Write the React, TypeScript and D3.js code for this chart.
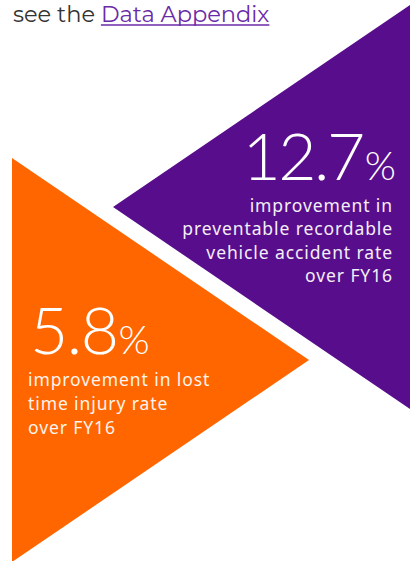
import React, { useEffect, useRef } from "react";
import * as d3 from "d3";

// stat values
const values = [12.7, 5.8];
const colors = ["#580e8c", "#ff6600"];
const captions = [
  ["improvement in", "preventable recordable", "vehicle accident rate", "over FY16"],
  ["improvement in lost", "time injury rate", "over FY16"],
];
const headerText = ["see the ", "Data Appendix"];

const W = 410;
const H = 561;

export default function App() {
  const ref = useRef<SVGSVGElement>(null);

  useEffect(() => {
    const svg = d3.select(ref.current);
    svg.selectAll("*").remove();

    // triangle geometry in page pixels
    const x = d3.scaleLinear().domain([0, 1]).range([0, 297]);
    const y = d3.scaleLinear().domain([-1, 1]).range([-202, 202]);

    const line = d3.line();

    // purple: points left, tip at (113, 207)
    const purple = svg.append("g").attr("transform", "translate(113,207)");
    purple
      .append("path")
      .attr("fill", colors[0])
      .attr("d", line([[x(0), y(0)], [x(1), y(-1)], [x(1), y(1)]]) + "Z");

    // orange: points right, base at x=12, centre y=360
    const orange = svg.append("g").attr("transform", "translate(12,360)");
    orange
      .append("path")
      .attr("fill", colors[1])
      .attr("d", line([[x(0), y(-1)], [x(1), y(0)], [x(0), y(1)]]) + "Z");

    const fmt = d3.format(".1f");

    // purple stat, right aligned
    const pt = svg
      .append("text")
      .attr("x", 396)
      .attr("y", 180)
      .attr("text-anchor", "end")
      .attr("fill", "#fff")
      .attr("font-family", "Lato, 'Open Sans', sans-serif")
      .attr("font-weight", 300);
    pt.append("tspan").attr("font-size", 66).attr("letter-spacing", -2.5).text(fmt(values[0]));
    pt.append("tspan").attr("font-size", 40).attr("dx", 2).text("%");

    svg
      .append("g")
      .selectAll("text")
      .data(captions[0])
      .join("text")
      .attr("x", 393)
      .attr("y", (d, i) => 212 + i * 23.3)
      .attr("text-anchor", "end")
      .attr("fill", "#f4eef8")
      .attr("font-family", "'Noto Sans', sans-serif")
      .attr("font-size", 17.5)
      .attr("letter-spacing", 0.9)
      .text((d) => d);

    // orange stat, left aligned
    const ot = svg
      .append("text")
      .attr("x", 30)
      .attr("y", 354)
      .attr("fill", "#fff")
      .attr("font-family", "Lato, 'Open Sans', sans-serif")
      .attr("font-weight", 300);
    ot.append("tspan").attr("font-size", 66).attr("letter-spacing", -1.5).text(fmt(values[1]));
    ot.append("tspan").attr("font-size", 40).attr("dx", 1).text("%");

    svg
      .append("g")
      .selectAll("text")
      .data(captions[1])
      .join("text")
      .attr("x", 28)
      .attr("y", (d, i) => 386 + i * 24)
      .attr("fill", "#fff4ec")
      .attr("font-family", "'Noto Sans', sans-serif")
      .attr("font-size", 17.5)
      .attr("letter-spacing", 0.9)
      .text((d) => d);

    // header line
    const ht = svg
      .append("text")
      .attr("x", 13)
      .attr("y", 22)
      .attr("font-family", "Montserrat, 'Open Sans', sans-serif")
      .attr("font-size", 22.5);
    ht.append("tspan").attr("fill", "#333").text(headerText[0]);
    const link = ht.append("tspan").attr("fill", "#6b2aa8").text(headerText[1]);

    const lb = (link.node() as SVGTSpanElement).getBBox();
    svg
      .append("line")
      .attr("x1", lb.x)
      .attr("x2", lb.x + lb.width)
      .attr("y1", 25)
      .attr("y2", 25)
      .attr("stroke", "#6b2aa8")
      .attr("stroke-width", 1.6);
  }, []);

  return (
    <svg
      ref={ref}
      width={W}
      height={H}
      style={{ position: "absolute", left: 0, top: 0, background: "#fff" }}
    />
  );
}
